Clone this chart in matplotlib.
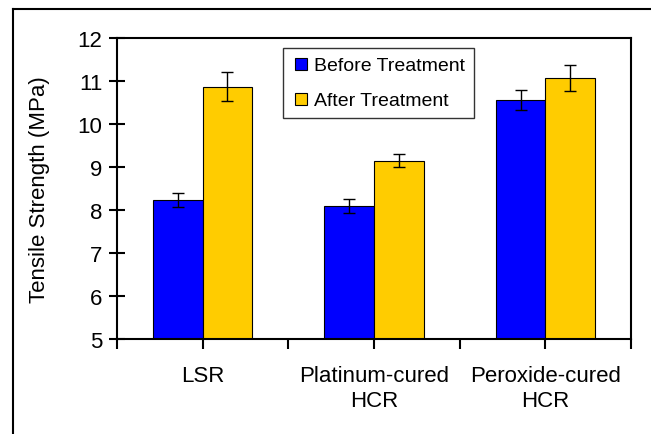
import numpy as np
import matplotlib
matplotlib.use('Agg')
import matplotlib.pyplot as plt
from matplotlib.lines import Line2D

# data
categories = ['LSR', 'Platinum-cured\nHCR', 'Peroxide-cured\nHCR']
before = [8.23, 8.09, 10.56]
before_err = [0.17, 0.16, 0.24]
after = [10.87, 9.15, 11.07]
after_err = [0.34, 0.16, 0.31]
series_labels = ['Before Treatment', 'After Treatment']

FS = 16
plt.rcParams.update({'font.family': 'Liberation Sans', 'font.size': FS})

fig = plt.figure(figsize=(6.51, 4.35), dpi=100)
ax = fig.add_axes([117/651, 1 - 340/435, (631-117)/651, (340-39)/435])

x = np.arange(len(categories))
w = 0.289
ekw = dict(elinewidth=1, capthick=1, ecolor='black')
ax.bar(x - w/2, before, w, color='#0000FF', edgecolor='black', linewidth=0.8,
       yerr=before_err, capsize=4, error_kw=ekw, label=series_labels[0])
ax.bar(x + w/2, after, w, color='#FFCC00', edgecolor='black', linewidth=0.8,
       yerr=after_err, capsize=4, error_kw=ekw, label=series_labels[1])

ax.set_xlim(-0.5, 2.5)
ax.set_ylim(5, 12)
ax.set_yticks(range(5, 13))

# ticks at category boundaries and centres, labels only at centres
tick_pos = np.arange(-0.5, len(categories), 0.5)
tick_lab = []
for p in tick_pos:
    tick_lab.append(categories[int(p)] if p == int(p) else '')
ax.set_xticks(tick_pos)
ax.set_xticklabels(tick_lab)

ax.tick_params(axis='x', direction='out', length=7, width=1.5, pad=12)
ax.tick_params(axis='y', direction='inout', length=11, width=1.5, pad=5)
ax.set_ylabel('Tensile Strength (MPa)', fontsize=FS, labelpad=20)
for s in ax.spines.values():
    s.set_linewidth(1.5)

handles = [Line2D([], [], marker='s', linestyle='none', markersize=9,
                  markerfacecolor=c, markeredgecolor='black', markeredgewidth=0.8)
           for c in ['#0000FF', '#FFCC00']]
leg = ax.legend(handles, series_labels, loc='upper left',
                bbox_to_anchor=((283-117)/514, 1 - 10/301),
                frameon=True, fancybox=False, edgecolor='black', handletextpad=0.15,
                borderpad=0.45, labelspacing=0.9, handlelength=1.0, borderaxespad=0,
                fontsize=14)
leg.get_frame().set_linewidth(1.0)

# outer chart-area border (cut at the right and bottom)
fig.add_artist(Line2D([13/651, 1.0], [1 - 10/435, 1 - 10/435], color='black', linewidth=1.5))
fig.add_artist(Line2D([13/651, 13/651], [0.0, 1 - 10/435], color='black', linewidth=1.5))

fig.savefig('out.png', dpi=100)
